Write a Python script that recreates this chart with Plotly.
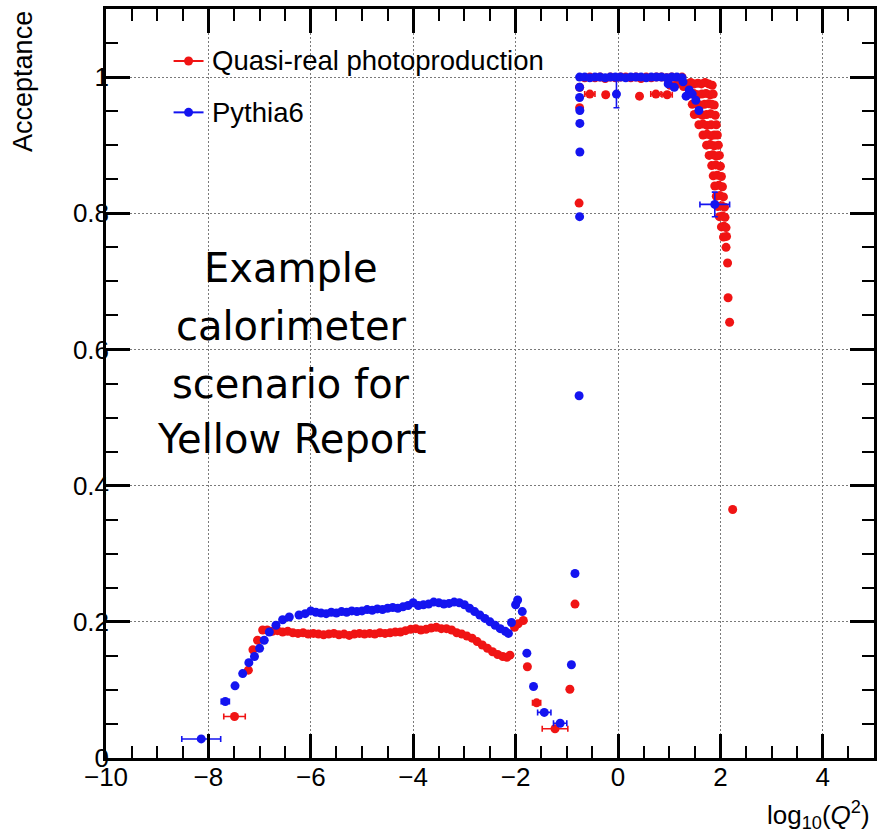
import plotly.graph_objects as go

# ---- Quasi-real photoproduction: acceptance vs log10(Q^2) ----
quasi_x = [
    -7.22, -7.13, -7.04, -6.94, -6.85, -6.75, -6.65, -6.55, -6.45, -6.35,
    -6.25, -6.15, -6.05, -5.95, -5.85, -5.75, -5.65, -5.55, -5.45, -5.35,
    -5.25, -5.15, -5.05, -4.95, -4.85, -4.75, -4.65, -4.55, -4.45, -4.35,
    -4.25, -4.15, -4.05, -3.95, -3.85, -3.75, -3.65, -3.55, -3.45, -3.35,
    -3.25, -3.15, -3.05, -2.95, -2.85, -2.75, -2.65, -2.55, -2.45, -2.35,
    -2.25, -2.17, -2.11, -2.02, -1.95, -1.85, -1.77, -0.94, -0.84, -0.76,
    -0.75, -0.75, -0.65, -0.55, -0.45, -0.35, -0.25, -0.15, -0.05, 0.05,
    0.15, 0.25, 0.35, 0.45, 0.55, 0.65, 0.75, 0.85, 0.95, 1.05,
    1.15, 1.25, 1.02, 1.15, 1.28,
    2.11, 2.14, 2.15, 2.18, 2.24,
]
quasi_y = [
    0.129, 0.159, 0.173, 0.188, 0.188, 0.186, 0.187, 0.185, 0.186, 0.184,
    0.183, 0.184, 0.182, 0.183, 0.182, 0.181, 0.182, 0.183, 0.181, 0.182,
    0.180, 0.182, 0.183, 0.182, 0.183, 0.182, 0.184, 0.183, 0.184, 0.185,
    0.185, 0.187, 0.189, 0.190, 0.188, 0.189, 0.191, 0.192, 0.190, 0.190,
    0.188, 0.184, 0.182, 0.179, 0.176, 0.171, 0.166, 0.161, 0.156, 0.152,
    0.149, 0.148, 0.151, 0.192, 0.197, 0.202, 0.134, 0.101, 0.226, 0.815,
    0.955, 0.985, 0.999, 1.000, 0.999, 1.000, 0.998, 1.000, 0.999, 1.000,
    1.000, 0.999, 1.000, 0.998, 1.000, 0.999, 1.000, 1.000, 0.999, 1.000,
    0.999, 1.000, 0.988, 0.990, 0.986,
    0.750, 0.727, 0.676, 0.640, 0.365,
]

# Dense fall-off of the quasi-real acceptance near log10(Q^2) ~ 2
quasi_edge_x = [
    1.35, 1.42, 1.49, 1.56, 1.63, 1.70, 1.77, 1.84,
    1.40, 1.48, 1.56, 1.64, 1.72, 1.80, 1.86,
    1.45, 1.53, 1.61, 1.69, 1.77, 1.83, 1.88,
    1.49, 1.57, 1.65, 1.73, 1.81, 1.90,
    1.58, 1.66, 1.74, 1.82, 1.92,
    1.66, 1.74, 1.82, 1.88, 1.94,
    1.73, 1.80, 1.88, 1.96,
    1.78, 1.85, 1.92, 1.98,
    1.83, 1.91, 2.00,
    1.86, 1.94, 2.02,
    1.89, 1.97, 2.04,
    1.92, 1.99, 2.06,
    1.95, 2.02, 2.08,
    1.98, 2.04, 2.09,
    2.02, 2.07, 2.11,
    2.06, 2.12,
]
quasi_edge_y = [
    0.990, 0.992, 0.990, 0.991, 0.990, 0.992, 0.990, 0.988,
    0.975, 0.976, 0.974, 0.975, 0.976, 0.974, 0.975,
    0.960, 0.961, 0.959, 0.960, 0.961, 0.960, 0.959,
    0.945, 0.946, 0.944, 0.945, 0.946, 0.944,
    0.930, 0.931, 0.929, 0.930, 0.930,
    0.915, 0.916, 0.914, 0.915, 0.915,
    0.900, 0.901, 0.899, 0.900,
    0.885, 0.886, 0.884, 0.885,
    0.870, 0.871, 0.869,
    0.855, 0.856, 0.854,
    0.840, 0.841, 0.839,
    0.825, 0.826, 0.824,
    0.810, 0.811, 0.809,
    0.795, 0.796, 0.794,
    0.780, 0.781, 0.779,
    0.765, 0.766,
]

# Quasi-real points with wide bins (visible horizontal error bars)
quasi_wide_x = [-7.49, -1.59, -1.23, -0.55, -0.24, 0.42, 0.74, 0.96]
quasi_wide_y = [0.061, 0.081, 0.043, 0.975, 0.974, 0.972, 0.975, 0.974]
quasi_wide_xerr = [0.21, 0.08, 0.25, 0.10, 0.05, 0.04, 0.10, 0.10]

# ---- Pythia6: acceptance vs log10(Q^2) ----
pythia_x = [
    -7.48, -7.33, -7.21, -7.10, -7.00, -6.91, -6.81, -6.68, -6.55, -6.42,
    -6.23, -6.11, -6.00, -5.90, -5.80, -5.70, -5.60, -5.50, -5.40, -5.30,
    -5.20, -5.10, -5.00, -4.90, -4.80, -4.70, -4.60, -4.50, -4.40, -4.30,
    -4.20, -4.10, -4.00, -3.90, -3.80, -3.70, -3.60, -3.50, -3.40, -3.30,
    -3.20, -3.10, -3.00, -2.90, -2.80, -2.70, -2.60, -2.50, -2.40, -2.30,
    -2.20, -2.14, -2.08, -2.00, -1.96, -1.87, -1.78, -1.65, -0.91, -0.84,
    -0.76, -0.75, -0.745, -0.745, -0.745, -0.75, -0.75,
    -0.75, -0.65, -0.55, -0.45, -0.35, -0.25, -0.15, -0.05, 0.05, 0.15,
    0.25, 0.35, 0.45, 0.55, 0.65, 0.75, 0.85, 0.95, 1.05, 1.15,
    1.25, 0.98, 1.10, 1.27, 1.33, 1.39, 1.45, 1.52, 1.58,
]
pythia_y = [
    0.106, 0.124, 0.140, 0.149, 0.161, 0.173, 0.185, 0.195, 0.203, 0.207,
    0.210, 0.212, 0.216, 0.214, 0.213, 0.212, 0.214, 0.213, 0.215, 0.214,
    0.216, 0.215, 0.216, 0.218, 0.217, 0.219, 0.218, 0.220, 0.221, 0.220,
    0.222, 0.224, 0.228, 0.224, 0.225, 0.226, 0.229, 0.228, 0.226, 0.227,
    0.229, 0.228, 0.225, 0.220, 0.215, 0.210, 0.205, 0.200, 0.195, 0.190,
    0.186, 0.183, 0.199, 0.225, 0.232, 0.215, 0.154, 0.105, 0.137, 0.271,
    0.532, 0.795, 0.890, 0.932, 0.951, 0.970, 0.985,
    1.000, 1.000, 0.999, 1.000, 1.000, 0.999, 1.000, 1.000, 1.000, 0.999,
    1.000, 1.000, 1.000, 0.999, 1.000, 1.000, 1.000, 0.999, 1.000, 1.000,
    0.999, 0.990, 0.985, 0.993, 0.972, 0.981, 0.975, 0.966, 0.951,
]

# Pythia6 points with visible error bars
pythia_wide_x = [-8.14, -7.67, -1.44, -1.13, -0.03, 1.89]
pythia_wide_y = [0.028, 0.083, 0.067, 0.051, 0.975, 0.813]
pythia_wide_xerr = [0.38, 0.08, 0.13, 0.13, 0.00, 0.29]
pythia_wide_yerr = [0.000, 0.000, 0.000, 0.000, 0.020, 0.018]

# ---- Axis ticks ----
x_tick_vals = [-10, -8, -6, -4, -2, 0, 2, 4]
x_tick_text = ["\u221210", "\u22128", "\u22126", "\u22124", "\u22122", "0", "2", "4"]
y_tick_vals = [0, 0.2, 0.4, 0.6, 0.8, 1.0]
y_tick_text = ["0", "0.2", "0.4", "0.6", "0.8", "1"]

# ---- Legend entries and overlay text ----
legend_labels = ["Quasi-real photoproduction", "Pythia6"]
note_lines = ["Example", "calorimeter", "scenario for", "Yellow Report"]

RED = "#f01414"
BLUE = "#1414f0"
MSIZE = 9
LABEL_FONT = "Liberation Sans, Arial, Helvetica, sans-serif"


def marker(color):
    return dict(color=color, size=MSIZE, line=dict(width=0))


fig = go.Figure()

fig.add_trace(go.Scatter(x=quasi_x, y=quasi_y, mode="markers",
                         showlegend=False, marker=marker(RED)))
fig.add_trace(go.Scatter(x=quasi_edge_x, y=quasi_edge_y, mode="markers",
                         showlegend=False, marker=marker(RED)))
fig.add_trace(go.Scatter(
    x=quasi_wide_x, y=quasi_wide_y, mode="markers", showlegend=False,
    marker=marker(RED),
    error_x=dict(type="data", array=quasi_wide_xerr, color=RED, thickness=1.6, width=3),
))
fig.add_trace(go.Scatter(x=pythia_x, y=pythia_y, mode="markers",
                         showlegend=False, marker=marker(BLUE)))
fig.add_trace(go.Scatter(
    x=pythia_wide_x, y=pythia_wide_y, mode="markers", showlegend=False,
    marker=marker(BLUE),
    error_x=dict(type="data", array=pythia_wide_xerr, color=BLUE, thickness=1.6, width=3),
    error_y=dict(type="data", array=pythia_wide_yerr, color=BLUE, thickness=1.6, width=3),
))

grid_style = dict(showgrid=True, gridcolor="#7a7a7a", gridwidth=1, griddash="2px,2px")
tick_font = dict(family=LABEL_FONT, size=26, color="black")

fig.update_xaxes(
    range=[-10, 5], tickmode="array", tickvals=x_tick_vals, ticktext=x_tick_text,
    ticks="inside", ticklen=24, tickwidth=2.5, tickcolor="black",
    showline=True, linecolor="black", linewidth=2.5, mirror="allticks",
    zeroline=False, tickfont=tick_font, ticklabelstandoff=-6,
    minor=dict(tickmode="linear", tick0=0, dtick=0.5, ticks="inside",
               ticklen=12, tickwidth=2, tickcolor="black", showgrid=False),
    **grid_style,
)
fig.update_yaxes(
    range=[0, 1.1], tickmode="array", tickvals=y_tick_vals, ticktext=y_tick_text,
    ticks="inside", ticklen=24, tickwidth=2.5, tickcolor="black",
    showline=True, linecolor="black", linewidth=2.5, mirror="allticks",
    zeroline=False, tickfont=tick_font, ticklabelstandoff=-11,
    minor=dict(tickmode="linear", tick0=0, dtick=0.05, ticks="inside",
               ticklen=12, tickwidth=2, tickcolor="black", showgrid=False),
    **grid_style,
)

annotations = []
# axis titles
annotations.append(dict(
    text="Acceptance", xref="paper", yref="paper", x=-0.109, y=0.903,
    xanchor="center", yanchor="middle", textangle=-90, showarrow=False,
    font=dict(family=LABEL_FONT, size=27, color="black"),
))
annotations.append(dict(
    text="log<sub>10</sub>(<i>Q</i><sup>2</sup>)", xref="paper", yref="paper",
    x=0.998, y=-0.050, xanchor="right", yanchor="top", showarrow=False,
    font=dict(family=LABEL_FONT, size=26, color="black"),
))

# legend
shapes = []
legend_rows = [(legend_labels[0], RED, 0.9306), (legend_labels[1], BLUE, 0.862)]
for label, color, ly in legend_rows:
    shapes.append(dict(type="line", xref="paper", yref="paper",
                       x0=0.088, x1=0.127, y0=ly, y1=ly,
                       line=dict(color=color, width=2)))
    shapes.append(dict(type="circle", xref="paper", yref="paper",
                       xsizemode="pixel", ysizemode="pixel",
                       xanchor=0.1075, yanchor=ly, x0=-4.5, x1=4.5, y0=-4.5, y1=4.5,
                       fillcolor=color, line=dict(width=0)))
    annotations.append(dict(
        text=label, xref="paper", yref="paper", x=0.135, y=ly,
        xanchor="left", yanchor="middle", showarrow=False,
        font=dict(family=LABEL_FONT, size=27.5, color="black"),
    ))

# overlay note
note_y = [0.654, 0.577, 0.499, 0.426]
for line, ny in zip(note_lines, note_y):
    annotations.append(dict(
        text=line, xref="paper", yref="paper", x=0.241, y=ny,
        xanchor="center", yanchor="middle", showarrow=False,
        font=dict(family="DejaVu Sans, sans-serif", size=40, color="black"),
    ))

fig.update_layout(
    width=879, height=836,
    margin=dict(l=106, r=2, t=9, b=78),
    paper_bgcolor="white", plot_bgcolor="white",
    showlegend=False,
    annotations=annotations,
    shapes=shapes,
)

fig.write_html("out.html")
